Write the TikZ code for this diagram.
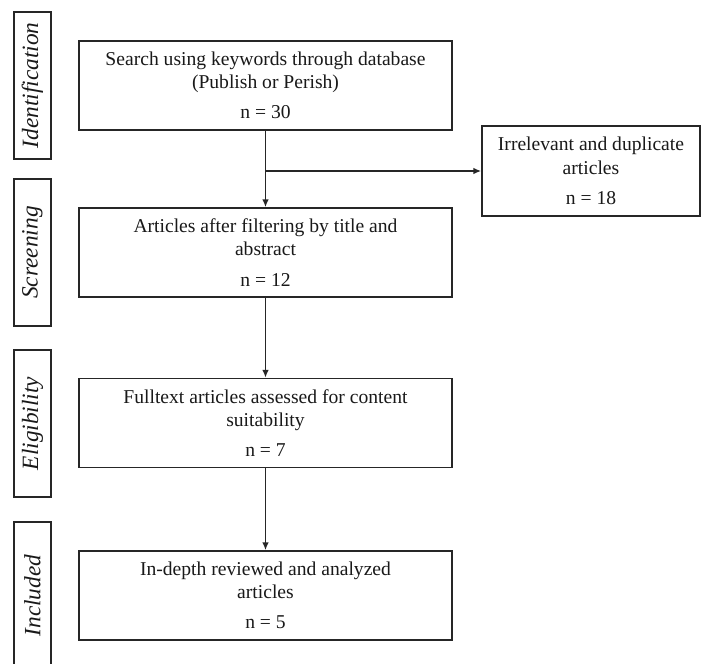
\documentclass[tikz,border=0pt]{standalone}
\usepackage{fontspec}
\setmainfont{Liberation Serif}
\usetikzlibrary{arrows.meta}

\begin{document}
\begin{tikzpicture}[x=0.75pt, y=-0.75pt,
  flowbox/.style={draw=black!85, text=black!90, line width=1.1pt, align=center, inner sep=2pt,
    font=\fontsize{14.7}{17.3}\selectfont},
  mainbox/.style={flowbox, minimum width=279.75pt, minimum height=66.75pt},
  sidebox/.style={flowbox, minimum width=163.5pt, minimum height=67.5pt},
  stagebar/.style={draw=black!85, text=black!90, line width=1.1pt, rotate=90, inner sep=1pt,
    minimum width=110.25pt, minimum height=27.75pt,
    font=\fontsize{17.5}{20}\selectfont\itshape},
  flowarrow/.style={-{Latex[length=6pt,width=5pt]}, draw=black!85, line width=1.3pt}]
% picture area
\clip (0,0) rectangle (704,664);
\fill[white] (0,0) rectangle (704,664);
% stage bars on the left
\foreach \name/\lbl/\y in {ident/Identification/85.5, screenbar/Screening/252.5,
    eligbar/Eligibility/423.5, inclbar/Included/595.5}{
\node[stagebar] (\name) at (32.5,\y) {\lbl};
}
% flow boxes
\node[mainbox] (search) at (265.5,85.5) {Search using keywords through database\\
  (Publish or Perish)\\[5.5pt] n = 30};
\node[sidebox] (exclude) at (591,171) {Irrelevant and duplicate\\ articles\\[5.5pt] n = 18};
\node[mainbox] (screen) at (265.5,252.5) {Articles after filtering by title and\\
  abstract\\[5.5pt] n = 12};
\node[mainbox] (elig) at (265.5,423) {Fulltext articles assessed for content\\
  suitability\\[5.5pt] n = 7};
\node[mainbox] (incl) at (265.5,595.5) {In-depth reviewed and analyzed\\
  articles\\[5.5pt] n = 5};
% connectors
\coordinate (split) at (search.south |- exclude.west);
\draw[flowarrow] (search) -- (screen);
\draw[flowarrow] (split) -- (exclude.west);
\draw[flowarrow] (screen) -- (elig);
\draw[flowarrow] (elig) -- (incl);
\end{tikzpicture}
\end{document}
